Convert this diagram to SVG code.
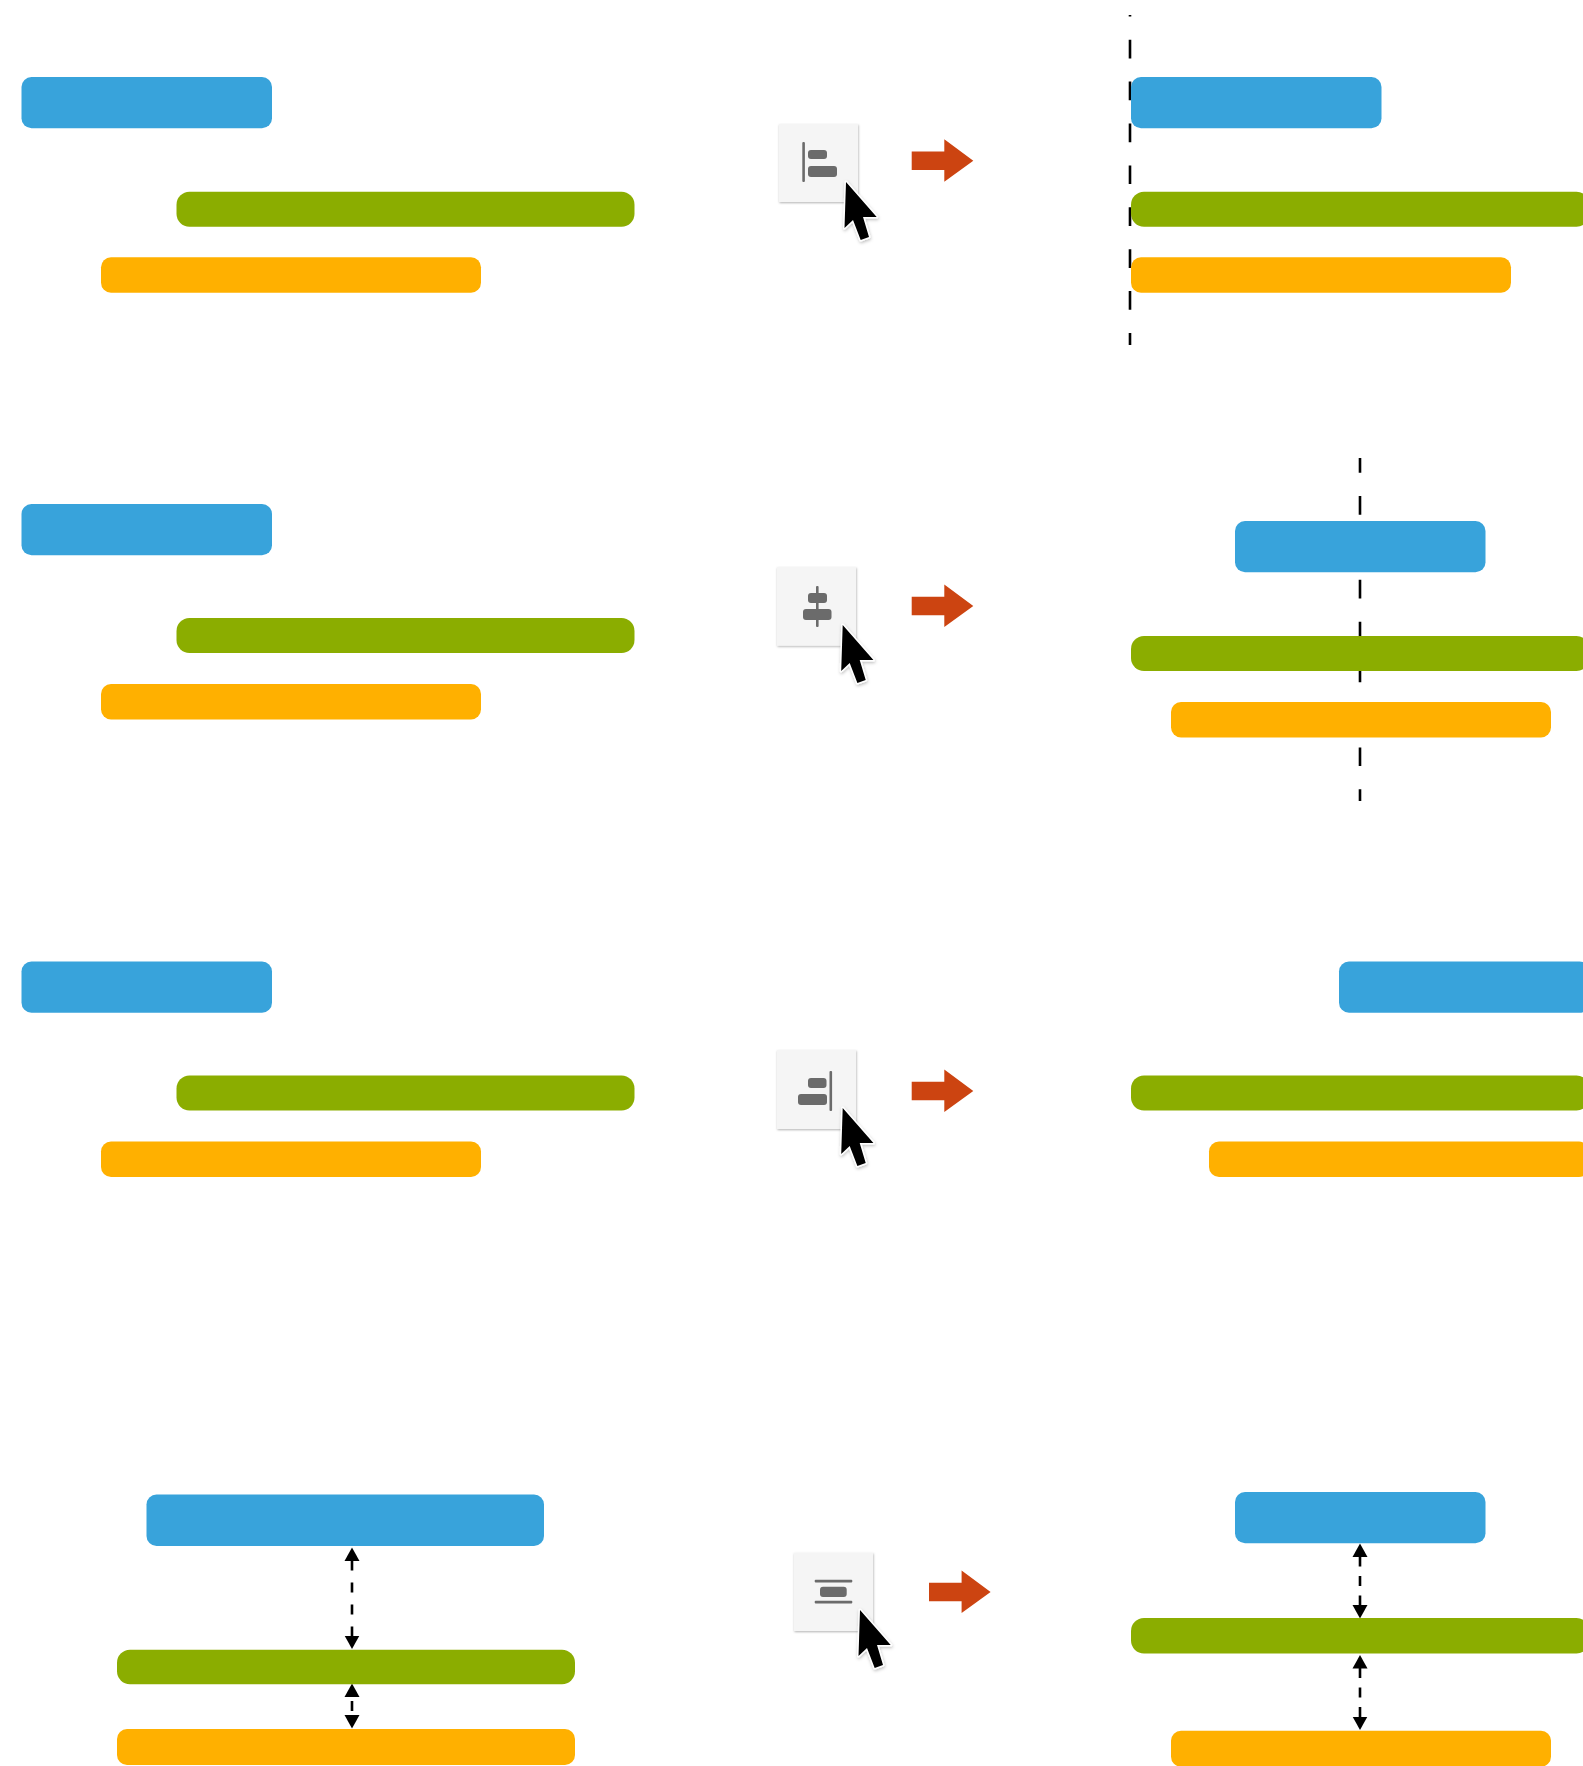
<svg xmlns="http://www.w3.org/2000/svg" width="1583" height="1766" viewBox="0 0 1583 1766">
<style>
.blue{fill:#38a3db}
.green{fill:#8bad00}
.orange{fill:#ffb000}
.blue,.orange{rx:10px}
.green{rx:13px}
.box{fill:#f5f5f5;filter:url(#boxShadow)}
.glyph{fill:#6b6b6b}
.guide{fill:none;stroke:#000;stroke-width:2.6;stroke-dasharray:18.7 23.2}
.gap{fill:none;stroke:#000;stroke-width:2.6;marker-start:url(#head);marker-end:url(#head)}
.go{fill:#cc4411}
</style>
<defs>
<filter id="boxShadow" x="-20%" y="-20%" width="140%" height="140%"><feDropShadow dx="0.5" dy="1" stdDeviation="1.2" flood-color="#000" flood-opacity="0.3"/></filter>
<filter id="curShadow" x="-30%" y="-30%" width="160%" height="160%"><feDropShadow dx="0.5" dy="1.5" stdDeviation="1.5" flood-color="#000" flood-opacity="0.25"/></filter>
<marker id="head" markerUnits="userSpaceOnUse" markerWidth="14" markerHeight="16" refX="0.5" refY="8" orient="auto-start-reverse"><path d="M0,0.5 L13.5,8 L0,15.5 Z" fill="#000"/></marker>
<g id="cursor"><path d="M0,0 L-1.5,46 L7,38 L14.7,58 L23,55 L17,35 L30.7,35 Z" fill="#000" stroke="#fff" stroke-width="3" stroke-linejoin="round" paint-order="stroke" filter="url(#curShadow)"/></g>
<path id="go" class="go" d="M0,-9.2 H32.6 V-21.4 L61.6,0 L32.6,21 V9.2 H0 Z"/>
</defs>
<rect width="1583" height="1766" fill="#fff"/>

<g id="connectors">
<path class="guide" stroke-dashoffset="17.2" d="M1130,15 V345"/>
<path class="guide" stroke-dashoffset="3.9" d="M1360,458 V801"/>
<path class="gap" style="stroke-dasharray:10 12" d="M352,1560.5 V1636"/>
<path class="gap" style="stroke-dasharray:0 4.5 10 10" d="M352,1696.5 V1715.5"/>
<path class="gap" style="stroke-dasharray:10 9.5" d="M1360,1556.5 V1605.5"/>
<path class="gap" style="stroke-dasharray:10 9.5" d="M1360,1668 V1717"/>
</g>

<g id="row1-before">
<rect id="r1a-blue" class="blue" x="21.5" y="77" width="250.5" height="51.3"/>
<rect id="r1a-green" class="green" x="176.5" y="191.7" width="458" height="35"/>
<rect id="r1a-orange" class="orange" x="101" y="257.3" width="380" height="35.4"/>
</g>
<g id="row1-icon">
<rect class="box" x="779" y="124" width="79" height="78"/>
<rect class="glyph" x="802.3" y="142" width="2.6" height="40" rx="1"/>
<rect class="glyph" x="808" y="150" width="19" height="9" rx="3"/>
<rect class="glyph" x="808" y="166" width="29" height="11" rx="3"/>
<use href="#cursor" x="846" y="182"/>
</g>
<use id="row1-arrow" href="#go" x="911.7" y="160.7"/>
<g id="row1-after">
<rect id="r1b-blue" class="blue" x="1131" y="77" width="250.5" height="51.3"/>
<rect id="r1b-green" class="green" x="1131" y="191.7" width="458.5" height="35"/>
<rect id="r1b-orange" class="orange" x="1131" y="257.3" width="380" height="35.4"/>
</g>

<g id="row2-before">
<rect id="r2a-blue" class="blue" x="21.5" y="504" width="250.5" height="51.3"/>
<rect id="r2a-green" class="green" x="176.5" y="618" width="458" height="35"/>
<rect id="r2a-orange" class="orange" x="101" y="684" width="380" height="35.4"/>
</g>
<g id="row2-icon">
<rect class="box" x="777" y="567" width="79" height="78.7"/>
<rect class="glyph" x="816" y="586" width="2.6" height="41" rx="1"/>
<rect class="glyph" x="808" y="593" width="19" height="10" rx="3"/>
<rect class="glyph" x="803" y="609" width="28.5" height="11" rx="3"/>
<use href="#cursor" x="842.7" y="625"/>
</g>
<use id="row2-arrow" href="#go" x="911.7" y="606"/>
<g id="row2-after">
<rect id="r2b-blue" class="blue" x="1235" y="521" width="250.5" height="51.3"/>
<rect id="r2b-green" class="green" x="1131" y="636" width="458.5" height="35"/>
<rect id="r2b-orange" class="orange" x="1171" y="702" width="380" height="35.4"/>
</g>

<g id="row3-before">
<rect id="r3a-blue" class="blue" x="21.5" y="961.5" width="250.5" height="51.3"/>
<rect id="r3a-green" class="green" x="176.5" y="1075.5" width="458" height="35"/>
<rect id="r3a-orange" class="orange" x="101" y="1141.6" width="380" height="35.4"/>
</g>
<g id="row3-icon">
<rect class="box" x="777" y="1050" width="79" height="79"/>
<rect class="glyph" x="829.5" y="1071" width="2.6" height="40" rx="1"/>
<rect class="glyph" x="808" y="1078" width="18.5" height="10" rx="3"/>
<rect class="glyph" x="798" y="1094" width="29" height="11" rx="3"/>
<use href="#cursor" x="842.7" y="1108"/>
</g>
<use id="row3-arrow" href="#go" x="911.7" y="1091"/>
<g id="row3-after">
<rect id="r3b-blue" class="blue" x="1339" y="961.5" width="250.5" height="51.3"/>
<rect id="r3b-green" class="green" x="1131" y="1075.5" width="458.5" height="35"/>
<rect id="r3b-orange" class="orange" x="1209" y="1141.6" width="380" height="35.4"/>
</g>

<g id="row4-before">
<rect id="r4a-blue" class="blue" x="146.5" y="1494.5" width="397.5" height="51.5"/>
<rect id="r4a-green" class="green" x="117" y="1649.7" width="458" height="34.6"/>
<rect id="r4a-orange" class="orange" x="117" y="1729" width="458" height="36"/>
</g>
<g id="row4-icon">
<rect class="box" x="794" y="1552.7" width="79" height="78.3"/>
<rect class="glyph" x="814.7" y="1579.8" width="37.6" height="2.6" rx="1"/>
<rect class="glyph" x="814.7" y="1600.8" width="37.6" height="2.6" rx="1"/>
<rect class="glyph" x="820" y="1586.7" width="26.7" height="10.3" rx="3"/>
<use href="#cursor" x="860" y="1610"/>
</g>
<use id="row4-arrow" href="#go" x="929" y="1592"/>
<g id="row4-after">
<rect id="r4b-blue" class="blue" x="1235" y="1492" width="250.5" height="51.3"/>
<rect id="r4b-green" class="green" x="1131" y="1618" width="458.5" height="35.5"/>
<rect id="r4b-orange" class="orange" x="1171" y="1730.7" width="380" height="36"/>
</g>
</svg>
